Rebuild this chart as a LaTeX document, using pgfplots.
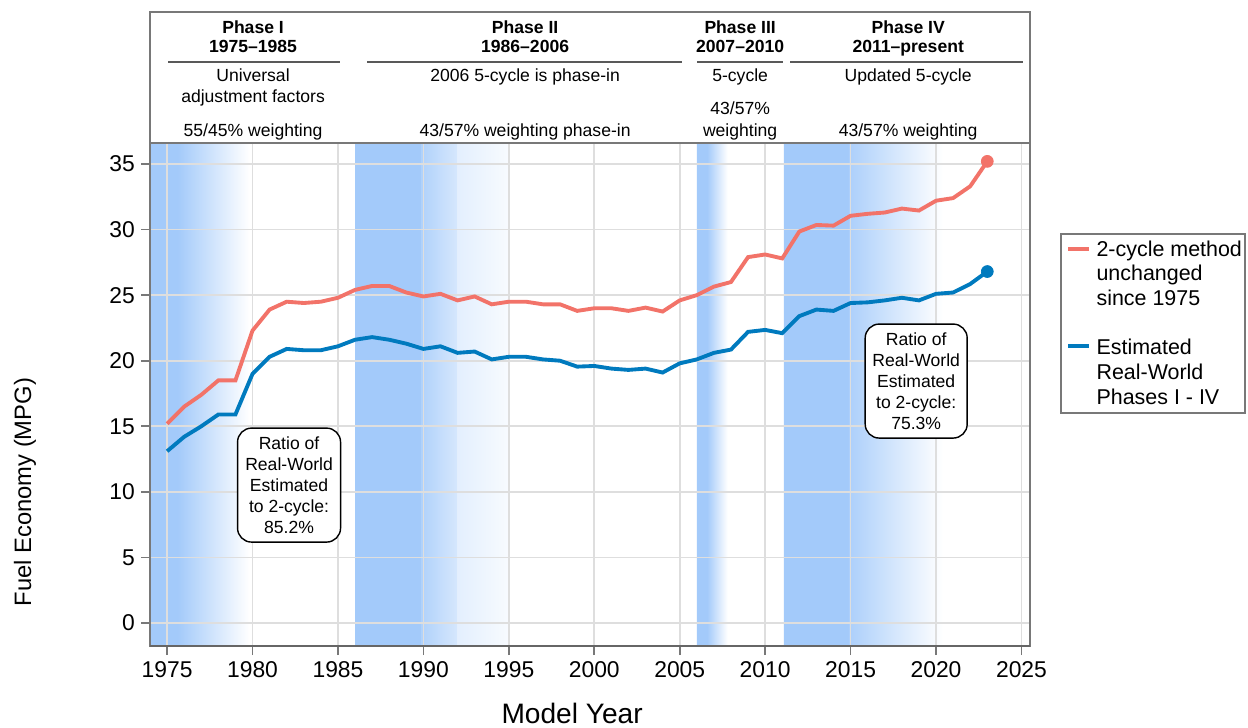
\documentclass[border=0pt]{standalone}
\usepackage{fontspec}
\setmainfont{Liberation Sans}
\usepackage{pgfplots}
\pgfplotsset{compat=1.18}

\definecolor{twocyc}{RGB}{242,115,105}
\definecolor{realw}{RGB}{0,122,190}
\definecolor{band}{RGB}{163,202,250}
\definecolor{gridc}{RGB}{222,222,222}
\definecolor{framec}{RGB}{120,120,120}

\pgfplotstableread{
year twocycle realworld
1975 15.2  13.1
1976 16.5  14.2
1977 17.4  15.0
1978 18.5  15.9
1979 18.5  15.9
1980 22.3  19.0
1981 23.9  20.3
1982 24.5  20.9
1983 24.4  20.8
1984 24.5  20.8
1985 24.8  21.1
1986 25.4  21.6
1987 25.7  21.8
1988 25.7  21.6
1989 25.2  21.3
1990 24.9  20.9
1991 25.1  21.1
1992 24.6  20.6
1993 24.9  20.7
1994 24.3  20.1
1995 24.5  20.3
1996 24.5  20.3
1997 24.3  20.1
1998 24.3  20.0
1999 23.8  19.55
2000 24.0  19.6
2001 24.0  19.4
2002 23.8  19.3
2003 24.05 19.4
2004 23.75 19.1
2005 24.6  19.8
2006 25.0  20.1
2007 25.65 20.6
2008 26.0  20.85
2009 27.9  22.2
2010 28.1  22.35
2011 27.8  22.1
2012 29.85 23.4
2013 30.35 23.9
2014 30.3  23.8
2015 31.05 24.4
2016 31.2  24.45
2017 31.3  24.6
2018 31.6  24.8
2019 31.45 24.6
2020 32.2  25.1
2021 32.4  25.2
2022 33.3  25.85
2023 35.2  26.8
}\fedata

\begin{document}
\begin{tikzpicture}
\begin{axis}[
  set layers,
  at={(3cm,1.62cm)}, anchor=south west,
  scale only axis, width=17.6cm, height=10.06cm,
  xmin=1974, xmax=2025.5, ymin=-1.75, ymax=36.6,
  xtick={1975,1980,...,2025}, ytick={0,5,...,35},
  /pgf/number format/set thousands separator={},
  /pgf/number format/assume math mode=true,
  ticklabel style={font=\fontsize{13}{15}\selectfont},
  xtick pos=lower, ytick pos=left,
  tick align=outside, major tick length=0.18cm,
  tick style={framec, line width=1pt},
  grid=major, grid style={gridc, line width=1pt},
  axis line style={framec, line width=1.1pt},
  bandst/.style={draw=none, on layer=axis background, forget plot},
]
% phase shading bands
\addplot[bandst, fill=band] coordinates {(1974,-1.75) (1975.6,-1.75) (1975.6,36.6) (1974,36.6) (1974,-1.75)};
\addplot[bandst, left color=band, right color=white] coordinates {(1975.6,-1.75) (1979.8,-1.75) (1979.8,36.6) (1975.6,36.6) (1975.6,-1.75)};
\addplot[bandst, fill=band] coordinates {(1986,-1.75) (1989.9,-1.75) (1989.9,36.6) (1986,36.6) (1986,-1.75)};
\addplot[bandst, left color=band!85, right color=band!45] coordinates {(1989.9,-1.75) (1992,-1.75) (1992,36.6) (1989.9,36.6) (1989.9,-1.75)};
\addplot[bandst, left color=band!30, right color=band!8] coordinates {(1992,-1.75) (1995,-1.75) (1995,36.6) (1992,36.6) (1992,-1.75)};
\addplot[bandst, fill=band] coordinates {(2006,-1.75) (2006.6,-1.75) (2006.6,36.6) (2006,36.6) (2006,-1.75)};
\addplot[bandst, left color=band, right color=white] coordinates {(2006.6,-1.75) (2007.8,-1.75) (2007.8,36.6) (2006.6,36.6) (2006.6,-1.75)};
\addplot[bandst, fill=band] coordinates {(2011.1,-1.75) (2014.9,-1.75) (2014.9,36.6) (2011.1,36.6) (2011.1,-1.75)};
\addplot[bandst, left color=band!90, right color=white] coordinates {(2014.9,-1.75) (2020.4,-1.75) (2020.4,36.6) (2014.9,36.6) (2014.9,-1.75)};

\addplot[twocyc, line width=2.2pt] table[x=year, y=twocycle] {\fedata};
\addplot[realw, line width=2.2pt] table[x=year, y=realworld] {\fedata};
\addplot[twocyc, only marks, mark=*, mark size=3.4pt] coordinates {(2023,35.2)};
\addplot[realw, only marks, mark=*, mark size=3.4pt] coordinates {(2023,26.8)};
\end{axis}

\begin{scope}[shift={(0,14.54cm)}, x=0.02cm, y=-0.02cm]
  % darker bottom axis line
  \draw[black!60, line width=1.5pt] (150,646) -- (1030,646);
  % header box
  \draw[framec, line width=1.1pt] (150,143) -- (150,12) -- (1030,12) -- (1030,143);
  \draw[framec, line width=1.1pt] (150,143) -- (1030,143);
  \begin{scope}[every node/.style={font=\fontsize{10}{12}\selectfont, inner sep=0pt}]
    \node[anchor=base, font=\bfseries\fontsize{10}{12}\selectfont] at (253,33) {Phase I};
    \node[anchor=base, font=\bfseries\fontsize{10}{12}\selectfont] at (253,52) {1975–1985};
    \node[anchor=base, font=\bfseries\fontsize{10}{12}\selectfont] at (525,33) {Phase II};
    \node[anchor=base, font=\bfseries\fontsize{10}{12}\selectfont] at (525,52) {1986–2006};
    \node[anchor=base, font=\bfseries\fontsize{10}{12}\selectfont] at (740,33) {Phase III};
    \node[anchor=base, font=\bfseries\fontsize{10}{12}\selectfont] at (740,52) {2007–2010};
    \node[anchor=base, font=\bfseries\fontsize{10}{12}\selectfont] at (908,33) {Phase IV};
    \node[anchor=base, font=\bfseries\fontsize{10}{12}\selectfont] at (908,52) {2011–present};
    \node[anchor=base] at (253,81) {Universal};
    \node[anchor=base] at (253,102) {adjustment factors};
    \node[anchor=base] at (253,136) {55/45\% weighting};
    \node[anchor=base] at (525,81) {2006 5-cycle is phase-in};
    \node[anchor=base] at (525,136) {43/57\% weighting phase-in};
    \node[anchor=base] at (740,81) {5-cycle};
    \node[anchor=base] at (740,114) {43/57\%};
    \node[anchor=base] at (740,136) {weighting};
    \node[anchor=base] at (908,81) {Updated 5-cycle};
    \node[anchor=base] at (908,136) {43/57\% weighting};
  \end{scope}
  \draw[black!65, line width=0.9pt] (168,62) -- (340,62);
  \draw[black!65, line width=0.9pt] (367,62) -- (682,62);
  \draw[black!65, line width=0.9pt] (697,62) -- (783,62);
  \draw[black!65, line width=0.9pt] (790,62) -- (1023,62);

  % ratio boxes
  \node[draw=black, line width=0.8pt, fill=white, rounded corners=0.28cm, align=center,
        minimum width=2.06cm, minimum height=2.28cm, inner sep=2pt,
        font=\fontsize{10}{12}\selectfont] at (289,485)
        {Ratio of\\Real-World\\Estimated\\to 2-cycle:\\85.2\%};
  \node[draw=black, line width=0.8pt, fill=white, rounded corners=0.28cm, align=center,
        minimum width=2.04cm, minimum height=2.28cm, inner sep=2pt,
        font=\fontsize{10}{12}\selectfont] at (916,381)
        {Ratio of\\Real-World\\Estimated\\to 2-cycle:\\75.3\%};

  % axis titles
  \node[font=\fontsize{16}{19}\selectfont] at (572,713) {Model Year};
  \node[rotate=90, font=\fontsize{13.5}{16}\selectfont] at (25,492) {Fuel Economy (MPG)};

  % legend
  \draw[framec, line width=0.9pt] (1061,234) rectangle (1245,413);
  \draw[twocyc, line width=2.3pt] (1068,249) -- (1089,249);
  \draw[realw, line width=2.3pt] (1068,346) -- (1089,346);
  \begin{scope}[every node/.style={anchor=base west, inner sep=0pt, font=\fontsize{12.2}{14}\selectfont}]
    \node at (1096,256) {2-cycle method};
    \node at (1096,280) {unchanged};
    \node at (1096,305) {since 1975};
    \node at (1096,354) {Estimated};
    \node at (1096,379) {Real-World};
    \node at (1096,404) {Phases I - IV};
  \end{scope}
\end{scope}
\pgfresetboundingbox
\path[use as bounding box] (0,0) rectangle (24.96cm,14.54cm);
\end{tikzpicture}
\end{document}
